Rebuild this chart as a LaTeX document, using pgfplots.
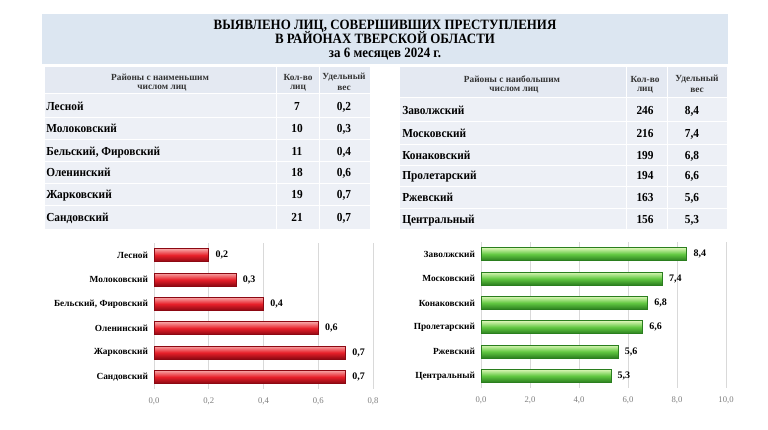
\documentclass[border=0pt]{standalone}
\usepackage{pgfplots}
\pgfplotsset{compat=1.18}
\usepackage{fontspec}
\setmainfont{Liberation Serif}
\definecolor{banner}{HTML}{DCE6F1}
\definecolor{thead}{HTML}{E4E9F2}
\definecolor{trow}{HTML}{EDF0F6}
\definecolor{tickgray}{HTML}{7F7F7F}
\definecolor{gridgray}{HTML}{D9D9D9}
\definecolor{hdrtext}{HTML}{333333}
\definecolor{rtop}{HTML}{F7A8A8}
\definecolor{rmid}{HTML}{E8202A}
\definecolor{rbot}{HTML}{8C0812}
\definecolor{gtop}{HTML}{DDF7B8}
\definecolor{gmid}{HTML}{62C842}
\definecolor{gbot}{HTML}{2A7E1E}
\newcommand{\tf}{\bfseries\fontsize{8.5}{10}\selectfont}
\newcommand{\hf}{\bfseries\fontsize{7}{8.5}\selectfont\color{hdrtext}}
\pgfplotsset{barchart/.style={
  scale only axis, anchor=south west,
  xbar, bar width=9.75pt, bar shift=0pt, y dir=reverse,
  ymin=-0.5, ymax=5.5, ytick={0,...,5},
  xmin=0,
  axis line style={draw=none},
  major tick length=0pt,
  xmajorgrids, grid style={gridgray, line width=0.6pt},
  yticklabel style={font=\bfseries\fontsize{7}{8.5}\selectfont, text=black, xshift=-1pt},
  xticklabel style={font=\fontsize{6.5}{8}\selectfont, text=tickgray, yshift=-3pt},
  /pgf/number format/fixed, /pgf/number format/fixed zerofill,
  /pgf/number format/precision=1, /pgf/number format/use comma,
  /pgf/number format/assume math mode=true,
  nodes near coords,
  nodes near coords style={font=\bfseries\fontsize{7.5}{9}\selectfont, text=black, anchor=west, xshift=1.5pt},
  clip=false,
},
redbar/.style={draw=rbot, line width=0.5pt, top color=rtop, bottom color=rbot, middle color=rmid},
greenbar/.style={draw=gbot, line width=0.5pt, top color=gtop, bottom color=gbot, middle color=gmid}}
\begin{document}
\begin{tikzpicture}
\begin{scope}[x=0.75pt, y=-0.75pt]
\path[fill=white] (0,0) rectangle (768,429);
% title banner
\fill[banner] (42,14) rectangle (728,64);
\begin{scope}[every node/.style={font=\bfseries\fontsize{9.7}{12}\selectfont, inner sep=0pt, text height=0.66em, text depth=0pt, yscale=1.1}]
\node at (385,24.5) {ВЫЯВЛЕНО ЛИЦ, СОВЕРШИВШИХ ПРЕСТУПЛЕНИЯ};
\node at (385,38.5) {В РАЙОНАХ ТВЕРСКОЙ ОБЛАСТИ};
\node at (385,52.5) {за 6 месяцев 2024 г.};
\end{scope}
% left table
\fill[thead] (45,67) rectangle (370,93);
\fill[trow] (45,93) rectangle (370,229);
\foreach \yy in {93,117,139.5,161.5,183,205.5} \draw[white, line width=0.75pt] (45,\yy) -- (370,\yy);
\draw[white, line width=0.75pt] (276,67) -- (276,229);
\draw[white, line width=0.75pt] (319,67) -- (319,229);
\node[font=\hf] at (160,77) {Районы с наименьшим};
\node[font=\hf] at (162,88) {числом лиц};
\node[font=\hf] at (298,77) {Кол-во};
\node[font=\hf] at (298,88) {лиц};
\node[font=\hf] at (344,77) {Удельный};
\node[font=\hf] at (344,88) {вес};
\foreach \nm/\cnt/\w/\yy in {Лесной/7/{0,2}/106, Молоковский/10/{0,3}/128, {Бельский, Фировский}/11/{0,4}/151, Оленинский/18/{0,6}/172, Жарковский/19/{0,7}/194, Сандовский/21/{0,7}/217}{
  \node[font=\tf, anchor=west, inner sep=0pt, text height=0.66em, text depth=0pt, yscale=1.08] at (46,\yy) {\nm};
  \node[font=\tf, inner sep=0pt, text height=0.66em, text depth=0pt, yscale=1.08] at (297,\yy) {\cnt};
  \node[font=\tf, inner sep=0pt, text height=0.66em, text depth=0pt, yscale=1.08] at (344,\yy) {\w};
}
% right table
\fill[thead] (400,67) rectangle (727,97);
\fill[trow] (400,97) rectangle (727,229);
\foreach \yy in {97,121.5,144,165,186,208} \draw[white, line width=0.75pt] (400,\yy) -- (727,\yy);
\draw[white, line width=0.75pt] (626,67) -- (626,229);
\draw[white, line width=0.75pt] (667,67) -- (667,229);
\node[font=\hf] at (512,79) {Районы с наибольшим};
\node[font=\hf] at (514,90) {числом лиц};
\node[font=\hf] at (645,79) {Кол-во};
\node[font=\hf] at (645,90) {лиц};
\node[font=\hf] at (697,79) {Удельный};
\node[font=\hf] at (697,90) {вес};
\foreach \nm/\cnt/\w/\yy in {Заволжский/246/{8,4}/110, Московский/216/{7,4}/133, Конаковский/199/{6,8}/155, Пролетарский/194/{6,6}/175, Ржевский/163/{5,6}/197, Центральный/156/{5,3}/219}{
  \node[font=\tf, anchor=west, inner sep=0pt, text height=0.66em, text depth=0pt, yscale=1.08] at (402,\yy) {\nm};
  \node[font=\tf, inner sep=0pt, text height=0.66em, text depth=0pt, yscale=1.08] at (645,\yy) {\cnt};
  \node[font=\tf, inner sep=0pt, text height=0.66em, text depth=0pt, yscale=1.08] at (692,\yy) {\w};
}
\end{scope}
% left chart
\begin{axis}[barchart,
  at={(115.5pt,-291.75pt)}, width=164.25pt, height=109.5pt,
  xmax=0.8, xtick={0,0.2,0.4,0.6,0.8},
  yticklabels={Лесной, Молоковский, {Бельский, Фировский}, Оленинский, Жарковский, Сандовский}]
\addplot[redbar] coordinates {(0.2,0)};
\addplot[redbar] coordinates {(0.3,1)};
\addplot[redbar] coordinates {(0.4,2)};
\addplot[redbar] coordinates {(0.6,3)};
\addplot[redbar] coordinates {(0.7,4)};
\addplot[redbar] coordinates {(0.7,5)};
\end{axis}
% right chart
\begin{axis}[barchart,
  at={(360.75pt,-291pt)}, width=183.75pt, height=109.5pt,
  xmax=10, xtick={0,2,4,6,8,10},
  yticklabels={Заволжский, Московский, Конаковский, Пролетарский, Ржевский, Центральный}]
\addplot[greenbar] coordinates {(8.4,0)};
\addplot[greenbar] coordinates {(7.4,1)};
\addplot[greenbar] coordinates {(6.8,2)};
\addplot[greenbar] coordinates {(6.6,3)};
\addplot[greenbar] coordinates {(5.6,4)};
\addplot[greenbar] coordinates {(5.3,5)};
\end{axis}
\end{tikzpicture}
\end{document}
